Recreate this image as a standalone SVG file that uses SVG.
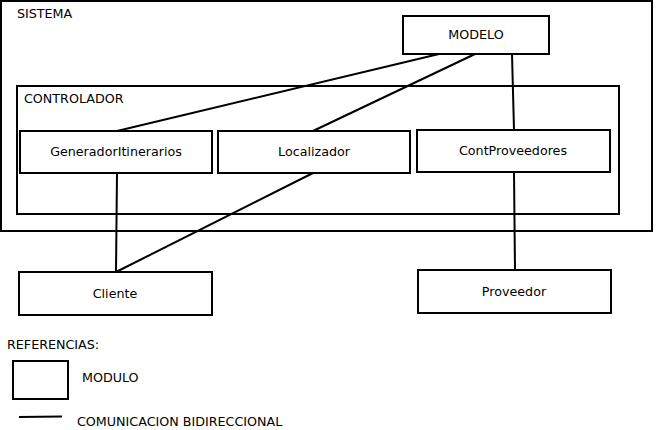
<svg xmlns="http://www.w3.org/2000/svg" width="656" height="430" viewBox="0 0 656 430">
<style>
.box{fill:#fff;stroke:#000;stroke-width:2}
.frame{fill:none;stroke:#000;stroke-width:2}
.ln{stroke:#000;stroke-width:2;fill:none}
text{font-family:"DejaVu Sans",sans-serif;font-size:12.7px;fill:#000}
.c{text-anchor:middle}
</style>
<rect width="656" height="430" fill="#fff"/>
<g id="sistema"><rect class="frame" x="1" y="1" width="651" height="230"/><text x="17" y="18">SISTEMA</text></g>
<g id="controlador"><rect class="frame" x="17" y="86" width="602" height="128"/><text x="24" y="103">CONTROLADOR</text></g>
<g id="connectors">
<line class="ln" x1="439" y1="54" x2="117" y2="131"/>
<line class="ln" x1="475" y1="54" x2="313" y2="131"/>
<line class="ln" x1="512" y1="54" x2="514" y2="130"/>
<line class="ln" x1="117" y1="173" x2="116" y2="272"/>
<line class="ln" x1="313" y1="173" x2="116" y2="272"/>
<line class="ln" x1="514" y1="172" x2="515" y2="270"/>
</g>
<g id="modelo"><rect class="box" x="403" y="16" width="146" height="38"/><text class="c" x="476" y="39">MODELO</text></g>
<g id="generador"><rect class="box" x="20" y="131" width="192" height="42"/><text class="c" x="116" y="156">GeneradorItinerarios</text></g>
<g id="localizador"><rect class="box" x="218" y="131" width="192" height="42"/><text class="c" x="314" y="156">Localizador</text></g>
<g id="contproveedores"><rect class="box" x="417" y="130" width="193" height="42"/><text class="c" x="513" y="155">ContProveedores</text></g>
<g id="cliente"><rect class="box" x="19" y="272" width="193" height="43"/><text class="c" x="115" y="298">Cliente</text></g>
<g id="proveedor"><rect class="box" x="418" y="270" width="193" height="43"/><text class="c" x="514" y="296">Proveedor</text></g>
<g id="legend">
<text x="7" y="348.5">REFERENCIAS:</text>
<rect class="box" x="13" y="361" width="55" height="38"/>
<text x="82" y="382">MODULO</text>
<line class="ln" x1="19" y1="417" x2="62" y2="416.5"/>
<text x="77" y="426">COMUNICACION BIDIRECCIONAL</text>
</g>
</svg>
